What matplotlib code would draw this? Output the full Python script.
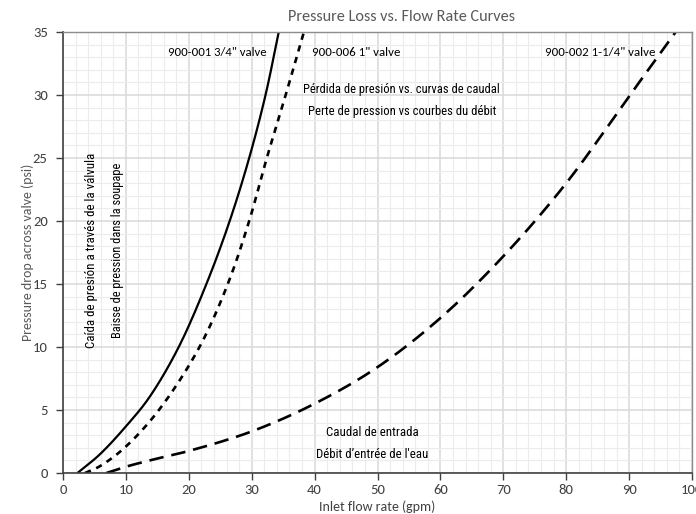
import matplotlib
matplotlib.use("Agg")
import numpy as np
import matplotlib.pyplot as plt
from matplotlib.ticker import MultipleLocator

MAIN = "Carlito"
COND = "Roboto Condensed"

# Data (flow gpm, pressure drop psi)
x_34 = [2.3, 5.9, 10, 13.8, 18.4, 22.8, 26.5, 29.6, 32.2, 34.3]
y_34 = [0, 1.5, 3.7, 6.06, 10, 15, 20, 25, 30, 35]

x_1 = [3.5, 5.9, 10, 15.4, 21.7, 26.2, 29.6, 32.4, 35.4, 38.3]
y_1 = [0, 0.55, 2.1, 5.1, 10, 15, 20, 25, 30, 35]

x_114 = [6.9, 10, 15, 20, 30, 40, 50, 60, 70, 80, 90, 97.4]
y_114 = [0, 0.5, 1.15, 1.75, 3.3, 5.5, 8.4, 12.3, 17.2, 23.0, 29.9, 35]

series_labels = ['900-001 3/4" valve', '900-006 1" valve', '900-002 1-1/4" valve']
title = "Pressure Loss vs. Flow Rate Curves"
xlabel = "Inlet flow rate (gpm)"
ylabel = "Pressure drop across valve (psi)"


def smooth(xs, ys, n=30, alpha=0.5):
    """Centripetal Catmull-Rom smoothed line through the given points."""
    p = np.column_stack([xs, ys]).astype(float)
    p = np.vstack([2 * p[0] - p[1], p, 2 * p[-1] - p[-2]])
    out = []
    for i in range(1, len(p) - 2):
        P0, P1, P2, P3 = p[i - 1], p[i], p[i + 1], p[i + 2]
        t0 = 0.0
        t1 = t0 + np.linalg.norm(P1 - P0) ** alpha
        t2 = t1 + np.linalg.norm(P2 - P1) ** alpha
        t3 = t2 + np.linalg.norm(P3 - P2) ** alpha
        t = np.linspace(t1, t2, n, endpoint=False)[:, None]
        A1 = (t1 - t) / (t1 - t0) * P0 + (t - t0) / (t1 - t0) * P1
        A2 = (t2 - t) / (t2 - t1) * P1 + (t - t1) / (t2 - t1) * P2
        A3 = (t3 - t) / (t3 - t2) * P2 + (t - t2) / (t3 - t2) * P3
        B1 = (t2 - t) / (t2 - t0) * A1 + (t - t0) / (t2 - t0) * A2
        B2 = (t3 - t) / (t3 - t1) * A2 + (t - t1) / (t3 - t1) * A3
        C = (t2 - t) / (t2 - t1) * B1 + (t - t1) / (t2 - t1) * B2
        out.append(C)
    out.append(p[-2][None, :])
    s = np.vstack(out)
    return s[:, 0], s[:, 1]


fig = plt.figure(figsize=(6.96, 5.14), dpi=100)
W, H = 696, 514
L, R, T, B = 63, 692, 32, 473
ax = fig.add_axes([L / W, 1 - B / H, (R - L) / W, (B - T) / H])

ax.set_xlim(0, 100)
ax.set_ylim(0, 35)
ax.xaxis.set_major_locator(MultipleLocator(10))
ax.xaxis.set_minor_locator(MultipleLocator(2))
ax.yaxis.set_major_locator(MultipleLocator(5))
ax.yaxis.set_minor_locator(MultipleLocator(1))
ax.grid(True, which="major", color="#d9d9d9", lw=1.1)
ax.grid(True, which="minor", color="#ececec", lw=0.8)
ax.set_axisbelow(True)

sx, sy = smooth(x_34, y_34)
ax.plot(sx, sy, color="black", lw=1.6, solid_capstyle="butt")
sx, sy = smooth(x_1, y_1)
ax.plot(sx, sy, color="black", lw=1.9, dashes=(2.4, 2.2))
sx, sy = smooth(x_114, y_114)
ax.plot(sx, sy, color="black", lw=1.9, dashes=(5.5, 3.0))

for s in ["top", "right"]:
    ax.spines[s].set_color("#8c8c8c")
    ax.spines[s].set_linewidth(1.0)
for s in ["left", "bottom"]:
    ax.spines[s].set_color("#404040")
    ax.spines[s].set_linewidth(1.2)

ax.tick_params(axis="both", which="major", length=5, width=1, color="#404040",
               labelcolor="#404040", labelsize=10.5, direction="out")
ax.tick_params(axis="x", which="major", pad=3)
ax.tick_params(axis="y", which="major", pad=6)
ax.tick_params(axis="both", which="minor", length=0)
for lab in ax.get_xticklabels() + ax.get_yticklabels():
    lab.set_fontfamily(MAIN)

ax.set_xlabel(xlabel, fontsize=10, color="#404040", family=MAIN)
ax.xaxis.set_label_coords((377 - L) / (R - L), -(500 - B) / (B - T))
ax.set_ylabel(ylabel, fontsize=10, color="#595959", family=MAIN)
ax.yaxis.set_label_coords((34 - L) / (R - L), 0.5)

renderer = fig.canvas.get_renderer()


def px(xp, yp):
    return xp / W, 1 - yp / H


def fit(txt, target, vertical=False):
    """Adjust the font size of a text so its rendered extent matches the reference."""
    for _ in range(3):
        bb = txt.get_window_extent(renderer=renderer)
        cur = bb.height if vertical else bb.width
        if cur > 0:
            txt.set_fontsize(txt.get_fontsize() * target / cur)
    return txt


t = fig.text(*px(401, 17), title, ha="center", va="center", fontsize=12,
             color="#595959", family=MAIN)
fit(t, 228)

# Series labels
fit(fig.text(*px(217.5, 53), series_labels[0], ha="center", va="center", fontsize=9, family=MAIN), 99)
fit(fig.text(*px(356, 53), series_labels[1], ha="center", va="center", fontsize=9, family=MAIN), 88)
fit(fig.text(*px(600, 53), series_labels[2], ha="center", va="center", fontsize=9, family=MAIN), 110)

# Multilingual annotations
kw = dict(ha="center", va="center", fontsize=12, family=COND, fontweight="normal")
fit(fig.text(*px(401.5, 90), "Pérdida de presión vs. curvas de caudal", **kw), 197)
fit(fig.text(*px(402.5, 112), "Perte de pression vs courbes du débit", **kw), 189)
fit(fig.text(*px(372, 433), "Caudal de entrada", **kw), 92)
fit(fig.text(*px(372.5, 454), "Débit d\u2019entrée de l'eau", **kw), 113)
fit(fig.text(*px(92, 250), "Caída de presión a través de la válvula", rotation=90, **kw),
    194, vertical=True)
fit(fig.text(*px(118, 250), "Baisse de pression dans la soupape", rotation=90, **kw),
    176, vertical=True)

fig.savefig("out.png", dpi=100)
